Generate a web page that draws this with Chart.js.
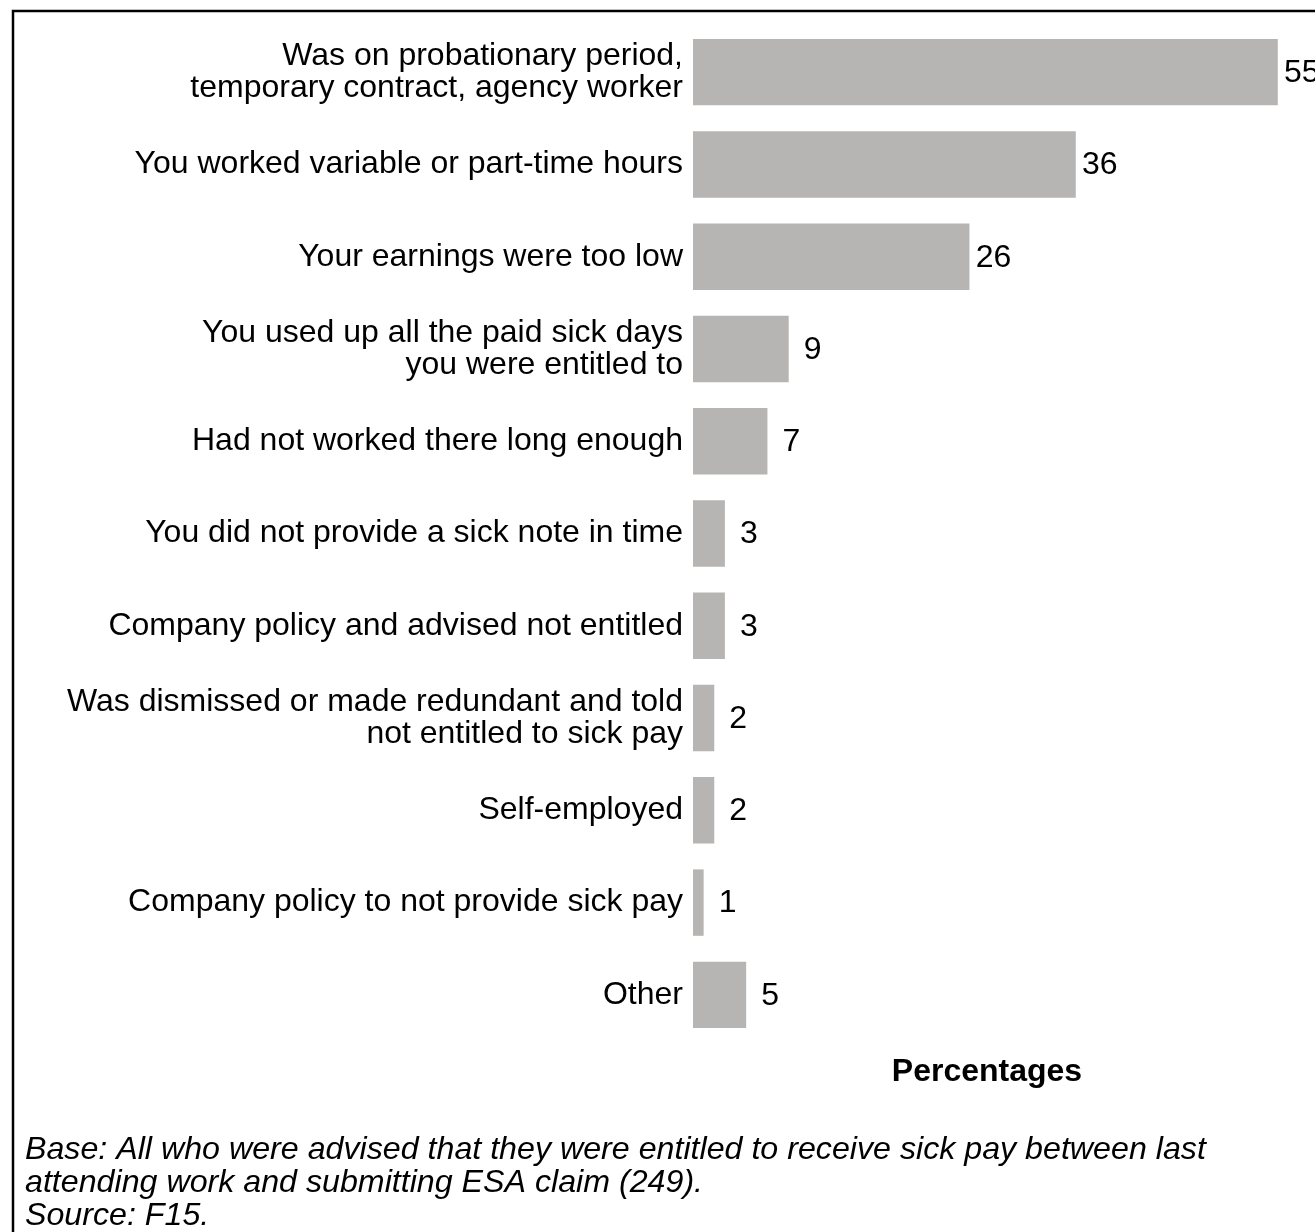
<!DOCTYPE html>
<html>
<head>
<meta charset="utf-8">
<script src="https://cdn.jsdelivr.net/npm/chart.js@4/dist/chart.umd.min.js"></script>
<style>
  html, body { margin: 0; padding: 0; background: #ffffff; }
  #wrap { position: relative; width: 1315px; height: 1232px; }
</style>
</head>
<body>
<div id="wrap"><canvas id="chart"></canvas></div>
<script>
// Reasons for not receiving sick pay (percentages)
const categories = [
  ["Was on probationary period,", "temporary contract, agency worker"],
  "You worked variable or part-time hours",
  "Your earnings were too low",
  ["You used up all the paid sick days", "you were entitled to"],
  "Had not worked there long enough",
  "You did not provide a sick note in time",
  "Company policy and advised not entitled",
  ["Was dismissed or made redundant and told", "not entitled to sick pay"],
  "Self-employed",
  "Company policy to not provide sick pay",
  "Other"
];
const values = [55, 36, 26, 9, 7, 3, 3, 2, 2, 1, 5];

const axisTitle = "Percentages";
const footnoteLines = [
  "Base: All who were advised that they were entitled to receive sick pay between last",
  "attending work and submitting ESA claim (249).",
  "Source: F15."
];

const FONT = "'Liberation Sans', Arial, Helvetica, sans-serif";
const FS = 32;
const FOOT_FS = 32.2;

// Outer frame of the figure
const framePlugin = {
  id: 'frame',
  beforeDraw(chart) {
    const ctx = chart.ctx;
    ctx.save();
    ctx.fillStyle = '#ffffff';
    ctx.fillRect(0, 0, chart.width, chart.height);
    ctx.strokeStyle = '#000000';
    ctx.lineWidth = 2.5;
    ctx.strokeRect(13, 11, chart.width + 20, chart.height + 20);
    ctx.restore();
  }
};

// Value labels beside each bar
const valueLabels = {
  id: 'valueLabels',
  afterDatasetsDraw(chart) {
    const ctx = chart.ctx;
    const meta = chart.getDatasetMeta(0);
    ctx.save();
    ctx.font = FS + 'px ' + FONT;
    ctx.fillStyle = '#000000';
    ctx.textAlign = 'center';
    ctx.textBaseline = 'middle';
    meta.data.forEach((bar, i) => {
      ctx.fillText(String(values[i]), bar.x + 24, bar.y + 1);
    });
    ctx.restore();
  }
};

// Axis caption and footnote below the plot
const captions = {
  id: 'captions',
  afterDraw(chart) {
    const ctx = chart.ctx;
    const area = chart.chartArea;
    ctx.save();
    ctx.fillStyle = '#000000';
    ctx.textBaseline = 'alphabetic';
    ctx.font = 'bold ' + FS + 'px ' + FONT;
    ctx.textAlign = 'center';
    ctx.fillText(axisTitle, (area.left + area.right) / 2, 1081);
    ctx.font = 'italic ' + FOOT_FS + 'px ' + FONT;
    ctx.textAlign = 'left';
    footnoteLines.forEach((line, i) => {
      ctx.fillText(line, 25, 1159 + i * 33);
    });
    ctx.restore();
  }
};

new Chart(document.getElementById('chart'), {
  type: 'bar',
  data: {
    labels: categories,
    datasets: [{
      data: values,
      backgroundColor: '#b6b5b3',
      borderWidth: 0,
      barPercentage: 0.72,
      categoryPercentage: 1.0
    }]
  },
  options: {
    indexAxis: 'y',
    responsive: true,
    maintainAspectRatio: false,
    animation: false,
    devicePixelRatio: 1,
    layout: { padding: { top: 26, bottom: 191, left: 0, right: 34 } },
    plugins: {
      legend: { display: false },
      tooltip: { enabled: false },
      title: { display: false }
    },
    scales: {
      x: {
        display: false,
        min: 0,
        max: 55.3
      },
      y: {
        grid: { display: false, drawTicks: false },
        border: { display: false },
        ticks: {
          color: '#000000',
          padding: 10,
          font: { family: FONT, size: FS, lineHeight: '32px' }
        },
        afterFit(scale) { scale.width = 693; }
      }
    }
  },
  plugins: [framePlugin, valueLabels, captions]
});
</script>
</body>
</html>
